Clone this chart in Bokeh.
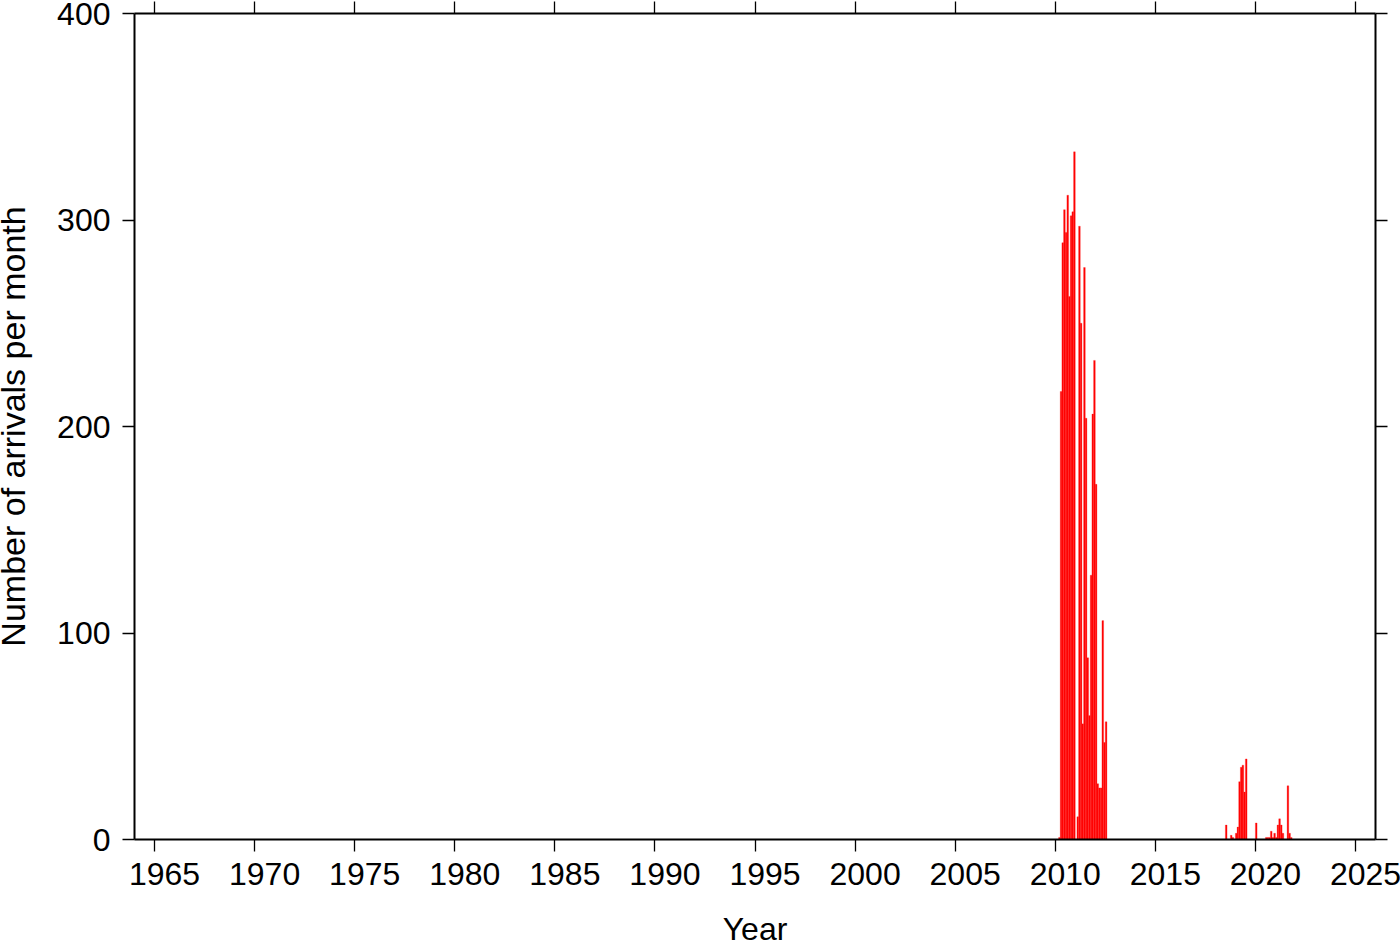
from bokeh.plotting import figure
from bokeh.models import (Range1d, LinearAxis, FixedTicker, CustomJSTickFormatter,
                          GlobalInlineStyleSheet)
from bokeh.embed import file_html
from bokeh.resources import INLINE

# ---- data: monthly arrival counts (month "YYYY-MM", count) ----
months = [
    "2010-03", "2010-04", "2010-05", "2010-06", "2010-07", "2010-08", "2010-09",
    "2010-10", "2010-11", "2010-12", "2011-01", "2011-02", "2011-03", "2011-04",
    "2011-05", "2011-06", "2011-07", "2011-08", "2011-09", "2011-10", "2011-11",
    "2011-12", "2012-01", "2012-02", "2012-03", "2012-04", "2012-05", "2012-06",
    "2012-07",
    "2018-07", "2018-10", "2018-11", "2019-01", "2019-02", "2019-03", "2019-04",
    "2019-05", "2019-06", "2019-07", "2020-01", "2020-07", "2020-08", "2020-09",
    "2020-10", "2020-11", "2020-12", "2021-01", "2021-02", "2021-03", "2021-04",
    "2021-05", "2021-08", "2021-09", "2021-10",
]
arrivals = [
    1, 217, 289, 305, 294, 312, 263,
    302, 304, 333, 0, 11, 297, 250,
    56, 277, 204, 88, 60, 128, 206,
    232, 172, 27, 25, 25, 106, 47,
    57,
    7, 2, 1, 3, 6, 28, 35,
    36, 23, 39, 8, 1, 1, 1,
    4, 1, 3, 1, 7, 10, 7,
    3, 26, 3, 1,
]

x_ticks = list(range(1965, 2026, 5))
x_tick_labels = [str(t) for t in x_ticks]
y_ticks = [0, 100, 200, 300, 400]
x_title = "Year"
y_title = "Number of arrivals per month"

FONT = "Liberation Sans"

left = [int(m[:4]) + (int(m[5:]) - 1) / 12 for m in months]
right = [l + 1 / 12 for l in left]

# frame placed at page x 134..1375, y 13..839
BL, BT, BR, BB = 150, 40, 40, 160
p = figure(
    frame_width=1241, frame_height=826,
    output_backend="svg", toolbar_location=None,
    x_range=Range1d(1964, 2026), y_range=Range1d(0, 400),
    min_border_left=BL, min_border_top=BT, min_border_right=BR, min_border_bottom=BB,
)
p.stylesheets = [GlobalInlineStyleSheet(css="html, body { margin: 0; padding: 0; overflow: hidden; }")]
p.styles = {"margin-left": f"{134 - BL}px", "margin-top": f"{13 - BT}px"}
p.xgrid.visible = False
p.ygrid.visible = False
p.outline_line_color = None
p.background_fill_color = "white"
p.border_fill_color = "white"

p.quad(left=left, right=right, bottom=0, top=arrivals,
       fill_color="#ff0000", line_color="#ff2020", line_width=0.3)

def style_axis(ax, ticks):
    ax.ticker = FixedTicker(ticks=ticks)
    ax.axis_line_width = 2
    ax.axis_line_color = "black"
    ax.major_tick_line_width = 1.3
    ax.major_tick_line_color = "black"
    ax.major_tick_out = 12
    ax.major_tick_in = 0
    ax.minor_tick_line_color = None
    ax.major_label_text_font = FONT
    ax.major_label_text_font_size = "32px"
    ax.major_label_text_color = "black"
    ax.axis_label_text_font = FONT
    ax.axis_label_text_font_size = "32px"
    ax.axis_label_text_font_style = "normal"
    ax.axis_label_text_color = "black"

blank = CustomJSTickFormatter(code="return '';")

# bottom axis: spine + ticks only
xa = p.xaxis[0]
style_axis(xa, x_ticks)
xa.formatter = blank
xa.major_label_standoff = 0
xa.major_label_text_font_size = "1px"

# second bottom axis: year labels (set half a year right of the ticks) + title
label_pos = [t + 0.5 for t in x_ticks]
xl = LinearAxis()
style_axis(xl, label_pos)
xl.axis_line_color = None
xl.major_tick_line_color = None
xl.major_tick_out = 0
xl.major_label_overrides = {pos: lab for pos, lab in zip(label_pos, x_tick_labels)}
xl.major_label_standoff = 11
xl.axis_label = x_title
xl.axis_label_standoff = 23
p.add_layout(xl, "below")

ya = p.yaxis[0]
style_axis(ya, y_ticks)
ya.axis_label = y_title
ya.axis_label_text_font_size = "34px"
ya.major_label_standoff = 12
ya.axis_label_standoff = 22

top = LinearAxis()
style_axis(top, x_ticks)
top.formatter = blank
top.major_label_standoff = 0
top.major_label_text_font_size = "1px"
p.add_layout(top, "above")

rt = LinearAxis()
style_axis(rt, y_ticks)
rt.formatter = blank
rt.major_label_standoff = 0
rt.major_label_text_font_size = "1px"
p.add_layout(rt, "right")

open("out.html", "w").write(file_html(p, INLINE))
